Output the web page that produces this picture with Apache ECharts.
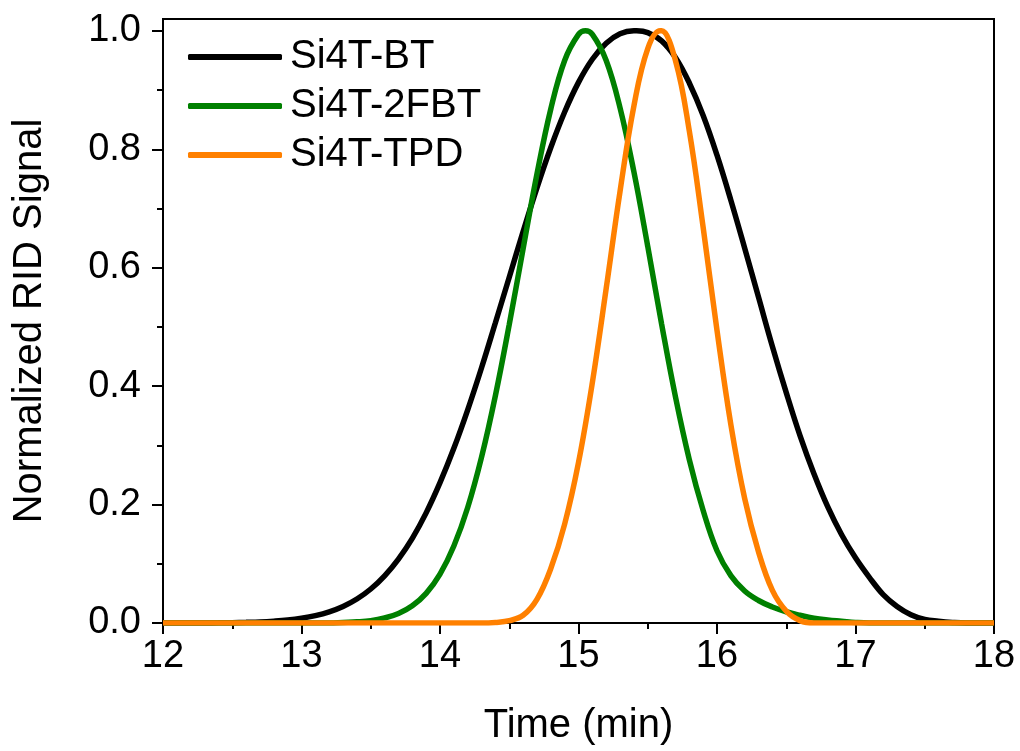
<!DOCTYPE html>
<html>
<head>
<meta charset="utf-8">
<script src="https://cdn.jsdelivr.net/npm/echarts@6/dist/echarts.min.js"></script>
<style>
  html, body { margin: 0; padding: 0; background: #fff; }
  #chart { width: 1020px; height: 751px; }
</style>
</head>
<body>
<div id="chart"></div>
<script>
// retention time (min)
var times = [
    12.0, 12.1, 12.2, 12.3, 12.4, 12.5, 12.6, 12.7, 12.8, 12.9,
    13.0, 13.1, 13.2, 13.3, 13.4, 13.5, 13.6, 13.7, 13.8, 13.9,
    14.0, 14.1, 14.2, 14.3, 14.4, 14.5, 14.6, 14.7, 14.8, 14.9,
    15.0, 15.1, 15.2, 15.3, 15.4, 15.5, 15.6, 15.7, 15.8, 15.9,
    16.0, 16.1, 16.2, 16.3, 16.4, 16.5, 16.6, 16.7, 16.8, 16.9,
    17.0, 17.1, 17.2, 17.3, 17.4, 17.5, 17.6, 17.7, 17.8, 17.9,
    18.0
];
var names = ['Si4T-BT', 'Si4T-2FBT', 'Si4T-TPD'];
var colors = ['#000000', '#008000', '#ff8000'];

var si4tBT = [
    0, 0, 0, 0.0001, 0.0003, 0.0006, 0.0011, 0.0018, 0.0031, 0.005,
    0.008, 0.0124, 0.0188, 0.0279, 0.0405, 0.0574, 0.0797, 0.108, 0.143, 0.186,
    0.237, 0.295, 0.36, 0.431, 0.507, 0.584, 0.661, 0.735, 0.803, 0.863,
    0.913, 0.952, 0.979, 0.995, 1.0, 0.997, 0.983, 0.955, 0.912, 0.857,
    0.79, 0.714, 0.633, 0.55, 0.467, 0.389, 0.316, 0.252, 0.196, 0.149,
    0.11, 0.077, 0.048, 0.028, 0.014, 0.006, 0.003, 0.001, 0, 0,
    0
];
var si4t2FBT = [
    0, 0, 0, 0, 0, 0, 0, 0, 0, 0,
    0, 0, 0, 0.001, 0.002, 0.004, 0.0086, 0.016, 0.029, 0.05,
    0.0825, 0.13, 0.195, 0.28, 0.384, 0.504, 0.632, 0.758, 0.868, 0.95,
    0.994, 0.994, 0.95, 0.87, 0.762, 0.636, 0.505, 0.382, 0.276, 0.19,
    0.122, 0.08, 0.054, 0.038, 0.027, 0.019, 0.013, 0.008, 0.005, 0.003,
    0.001, 0, 0, 0, 0, 0, 0, 0, 0, 0,
    0
];
var si4tTPD = [
    0, 0, 0, 0, 0, 0, 0, 0, 0, 0,
    0, 0, 0, 0, 0, 0, 0, 0, 0, 0,
    0, 0, 0, 0, 0.001, 0.004, 0.013, 0.04, 0.092, 0.167,
    0.271, 0.406, 0.565, 0.729, 0.873, 0.97, 1.0, 0.95, 0.831, 0.668,
    0.494, 0.335, 0.21, 0.12, 0.055, 0.02, 0.004, 0, 0, 0,
    0, 0, 0, 0, 0, 0, 0, 0, 0, 0,
    0
];
// apex of each peak (time, normalized signal)
var peakTimes = [15.42, 15.05, 15.59];
var peakValues = [1.0, 1.0, 1.0];

var yMajorTicks = [0, 0.2, 0.4, 0.6, 0.8, 1.0];
var yMinorTicks = [0.1, 0.3, 0.5, 0.7, 0.9];

var font = 'Liberation Sans, Arial, sans-serif';

function pairs(ys, k) {
    var out = times.map(function (t, i) { return [t, ys[i]]; });
    out.push([peakTimes[k], peakValues[k]]);
    out.sort(function (a, b) { return a[0] - b[0]; });
    return out;
}

function makeSeries(k, ys) {
    return {
        name: names[k],
        type: 'line',
        data: pairs(ys, k),
        showSymbol: false,
        symbol: 'none',
        smooth: 0.4,
        lineStyle: { color: colors[k], width: 5.5 },
        itemStyle: { color: colors[k] }
    };
}

var chart = echarts.init(document.getElementById('chart'));
chart.setOption({
    animation: false,
    backgroundColor: '#fff',
    grid: {
        left: 163, right: 26, top: 19, bottom: 126,
        show: true, borderColor: '#000', borderWidth: 2
    },
    legend: {
        show: true,
        orient: 'vertical',
        left: 183, top: 31,
        icon: 'roundRect',
        itemWidth: 94, itemHeight: 6, itemGap: 7,
        data: names,
        textStyle: { fontFamily: font, fontSize: 40, color: '#000', lineHeight: 42, padding: [0, 0, 0, 3] }
    },
    xAxis: {
        type: 'value',
        min: 12, max: 18, interval: 1,
        name: 'Time (min)',
        nameLocation: 'middle',
        nameGap: 83,
        nameTextStyle: { fontFamily: font, fontSize: 40, color: '#000' },
        axisLine: { lineStyle: { color: '#000', width: 2 } },
        axisTick: { length: 11, lineStyle: { color: '#000', width: 2 } },
        minorTick: { show: true, splitNumber: 2, length: 6, lineStyle: { color: '#000', width: 2 } },
        axisLabel: { fontFamily: font, fontSize: 38, color: '#000', margin: 15 },
        splitLine: { show: false }
    },
    yAxis: [{
        type: 'value',
        min: 0, max: 1.02,
        name: 'Normalized RID Signal',
        nameLocation: 'middle',
        nameRotate: 90,
        nameGap: 113,
        nameTextStyle: { fontFamily: font, fontSize: 40, color: '#000' },
        axisLine: { show: true, lineStyle: { color: '#000', width: 2 } },
        axisTick: { show: true, length: 11, customValues: yMajorTicks, lineStyle: { color: '#000', width: 2 } },
        axisLabel: {
            fontFamily: font, fontSize: 38, color: '#000', margin: 22,
            customValues: yMajorTicks,
            formatter: function (v) { return v.toFixed(1); }
        },
        splitLine: { show: false }
    }, {
        type: 'value',
        min: 0, max: 1.02,
        position: 'left',
        axisLine: { show: false },
        axisTick: { show: true, length: 6, customValues: yMinorTicks, lineStyle: { color: '#000', width: 2 } },
        axisLabel: { show: false },
        splitLine: { show: false }
    }],
    series: [
        makeSeries(0, si4tBT),
        makeSeries(1, si4t2FBT),
        makeSeries(2, si4tTPD)
    ]
});
</script>
</body>
</html>
